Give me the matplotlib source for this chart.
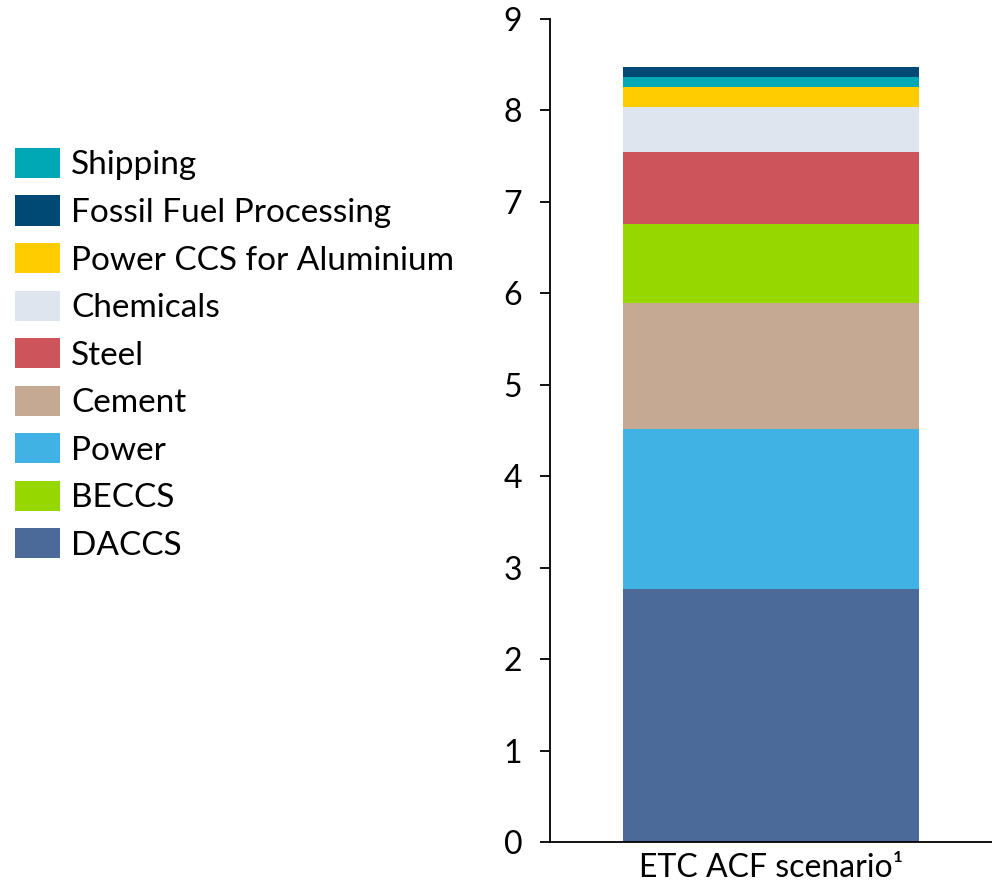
import matplotlib
matplotlib.use("Agg")
import matplotlib.pyplot as plt
from matplotlib.patches import Patch

plt.rcParams["font.family"] = ["Lato", "DejaVu Sans"]

# stacked from bottom to top
sectors = ["DACCS", "Power", "Cement", "BECCS", "Steel", "Chemicals",
           "Power CCS for Aluminium", "Shipping", "Fossil Fuel Processing"]
values = [2.77, 1.75, 1.37, 0.87, 0.78, 0.50, 0.22, 0.11, 0.11]
colors = ["#4b6a99", "#40b3e4", "#c5a993", "#96d700", "#cd545b", "#dfe5ef",
          "#ffcc00", "#00a8b5", "#004975"]
scenario = ["ETC ACF scenario\u00b9"]

# order used in the legend box
legend_order = ["Shipping", "Fossil Fuel Processing", "Power CCS for Aluminium",
                "Chemicals", "Steel", "Cement", "Power", "BECCS", "DACCS"]

fig = plt.figure(figsize=(9.92, 8.86), dpi=100)
ax = fig.add_axes([0.5544, 0.0497, 0.4456, 0.9289])

bottom = 0.0
for name, v, c in zip(sectors, values, colors):
    ax.bar(scenario, [v], bottom=bottom, width=0.67, color=c, label=name)
    bottom += v

ax.set_xlim(-0.5, 0.5)
ax.set_ylim(0, 9)
ax.set_yticks(range(0, 10))
ax.tick_params(axis="y", length=7, width=1.3, labelsize=23, pad=13)
ax.tick_params(axis="x", length=0, labelsize=23, pad=8)
for s in ["top", "right"]:
    ax.spines[s].set_visible(False)
for s in ["left", "bottom"]:
    ax.spines[s].set_linewidth(1.3)

col = dict(zip(sectors, colors))
handles = [Patch(facecolor=col[n], label=n) for n in legend_order]
fig.legend(handles=handles, loc="upper left", bbox_to_anchor=(0.015, 0.833),
           frameon=False, fontsize=24, handlelength=1.35, handleheight=1.02,
           handletextpad=0.33, labelspacing=0.45, borderaxespad=0,
           borderpad=0)

fig.savefig("out.png", dpi=100)
